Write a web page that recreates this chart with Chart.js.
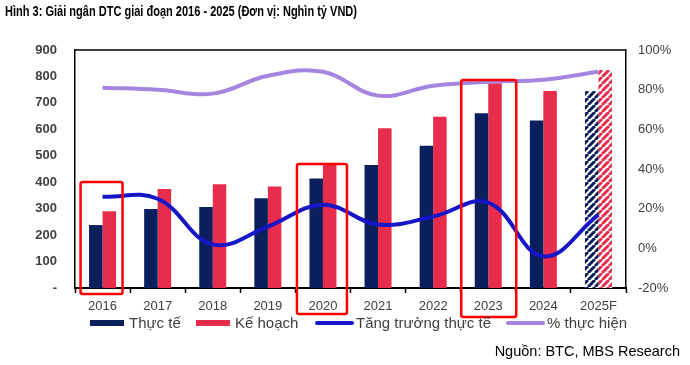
<!DOCTYPE html>
<html>
<head>
<meta charset="utf-8">
<script src="https://cdn.jsdelivr.net/npm/chart.js@4.4.1/dist/chart.umd.min.js"></script>
<style>
  html, body { margin: 0; padding: 0; background: #fff; }
  #wrap { width: 690px; height: 365px; position: relative; }
</style>
</head>
<body>
<div id="wrap"><canvas id="dtc"></canvas></div>
<script>
// du lieu doc tu hinh
const years = ['2016', '2017', '2018', '2019', '2020', '2021', '2022', '2023', '2024', '2025F'];
const thucTe = [238, 299, 306, 339, 414, 465, 538, 661, 633, 745];
const keHoach = [290, 374, 392, 384, 466, 604, 648, 774, 745, 824];
const tangTruong = [26, 25, 2, 11, 22, 12, 16, 23, -4, 17];
const thucHien = [81, 80, 78, 87, 89, 77, 82, 84, 85, 89];
const leftTicks = [0, 100, 200, 300, 400, 500, 600, 700, 800, 900];
const rightTicks = [-20, 0, 20, 40, 60, 80, 100];
// o do khoanh (nam, dinh o theo don vi truc trai)
const boxYears = ['2016', '2020', '2023'];
const boxTops = [401, 469, 787];

const NAVY = '#0b1f5c';
const RED = '#e82c4c';
const BLUE = '#1616c8';
const PURPLE = '#a486de';

// soc cheo cho nam du bao
function hatch(color) {
  const c = document.createElement('canvas');
  c.width = 7; c.height = 7;
  const g = c.getContext('2d');
  g.fillStyle = '#fff';
  g.fillRect(0, 0, 7, 7);
  g.strokeStyle = color;
  g.lineWidth = 3;
  g.beginPath();
  for (let k = -7; k <= 14; k += 7) {
    g.moveTo(k, 7); g.lineTo(k + 7, 0);
  }
  g.stroke();
  return g.createPattern(c, 'repeat');
}
const navyHatch = hatch(NAVY);
const redHatch = hatch(RED);

const last = years.length - 1;
const navyColors = years.map((y, i) => i === last ? navyHatch : NAVY);
const redColors = years.map((y, i) => i === last ? redHatch : RED);

const extras = {
  id: 'extras',
  afterDatasetsDraw(chart) {
    const ctx = chart.ctx;
    const x = chart.scales.x, y = chart.scales.y;
    const area = chart.chartArea;
    // khung tren
    ctx.save();
    ctx.strokeStyle = '#000';
    ctx.lineWidth = 1.5;
    ctx.beginPath();
    ctx.moveTo(area.left, area.top);
    ctx.lineTo(area.right, area.top);
    ctx.stroke();
    // o do
    const halfL = [22, 26, 27];
    const halfR = [20, 24, 28];
    const bottoms = [6, 26, 29];
    ctx.strokeStyle = '#ff0000';
    ctx.lineWidth = 2.5;
    boxYears.forEach((yr, k) => {
      const cx = x.getPixelForValue(years.indexOf(yr));
      const top = y.getPixelForValue(boxTops[k]);
      const l = cx - halfL[k], r = cx + halfR[k], b = area.bottom + bottoms[k];
      ctx.beginPath();
      ctx.roundRect(l, top, r - l, b - top, 2);
      ctx.stroke();
    });
    ctx.restore();
  },
  afterDraw(chart) {
    const ctx = chart.ctx;
    ctx.save();
    // tieu de
    const title = 'Hình 3: Giải ngân DTC giai đoạn 2016 - 2025 (Đơn vị: Nghìn tỷ VND)';
    ctx.font = 'bold 15px "Liberation Sans Narrow", "Liberation Sans", Arial, sans-serif';
    ctx.fillStyle = '#000';
    ctx.textBaseline = 'middle';
    ctx.textAlign = 'left';
    const w = ctx.measureText(title).width;
    ctx.save();
    ctx.translate(5, 12);
    ctx.scale(352 / w, 1);
    ctx.fillText(title, 0, 0);
    ctx.restore();

    // chu thich
    const ds = chart.data.datasets;
    const items = [
      { x: 90, type: 'box', color: NAVY, text: ds[2].label },
      { x: 196, type: 'box', color: RED, text: ds[3].label },
      { x: 316, type: 'line', color: BLUE, text: ds[0].label },
      { x: 507, type: 'line', color: PURPLE, text: ds[1].label }
    ];
    const ly = 323;
    ctx.font = '15px "Liberation Sans", Arial, sans-serif';
    items.forEach(it => {
      if (it.type === 'box') {
        ctx.fillStyle = it.color;
        ctx.fillRect(it.x, ly - 3, 34, 6);
      } else {
        ctx.strokeStyle = it.color;
        ctx.lineWidth = 4;
        ctx.lineCap = 'round';
        ctx.beginPath();
        ctx.moveTo(it.x + 1, ly);
        ctx.lineTo(it.x + 36, ly);
        ctx.stroke();
      }
      ctx.fillStyle = '#404040';
      ctx.fillText(it.text, it.x + (it.type === 'box' ? 39 : 40), ly + 1);
    });

    // nguon
    ctx.font = '14.5px "Liberation Sans", Arial, sans-serif';
    ctx.fillStyle = '#000';
    ctx.textAlign = 'right';
    ctx.fillText('Nguồn: BTC, MBS Research', 680, 352);
    ctx.restore();
  }
};

const data = {
  labels: years,
  datasets: [
    {
      type: 'line',
      label: 'Tăng trưởng thực tế',
      data: tangTruong,
      yAxisID: 'y1',
      borderColor: BLUE,
      borderWidth: 4,
      pointRadius: 0,
      tension: 0.4,
      fill: false,
      order: 0
    },
    {
      type: 'line',
      label: '% thực hiện',
      data: thucHien,
      yAxisID: 'y1',
      borderColor: PURPLE,
      borderWidth: 4,
      pointRadius: 0,
      tension: 0.4,
      fill: false,
      order: 0
    },
    {
      type: 'bar',
      label: 'Thực tế',
      data: thucTe,
      yAxisID: 'y',
      backgroundColor: navyColors,
      categoryPercentage: 0.49,
      barPercentage: 1,
      order: 1
    },
    {
      type: 'bar',
      label: 'Kế hoạch',
      data: keHoach,
      yAxisID: 'y',
      backgroundColor: redColors,
      categoryPercentage: 0.49,
      barPercentage: 1,
      order: 1
    }
  ]
};

const config = {
  type: 'bar',
  data,
  options: {
    responsive: true,
    maintainAspectRatio: false,
    animation: false,
    layout: { padding: { top: 50, bottom: 52, left: 0, right: 0 } },
    plugins: { legend: { display: false }, tooltip: { enabled: false } },
    scales: {
      x: {
        afterFit(s) { s.height = 25; },
        grid: {
          offset: true,
          drawOnChartArea: false,
          drawTicks: true,
          tickLength: 5,
          tickColor: '#000',
          tickWidth: 1.5
        },
        border: { display: true, color: '#000', width: 2 },
        ticks: {
          color: '#404040',
          padding: 6,
          font: { family: '"Liberation Sans", Arial, sans-serif', size: 13 }
        }
      },
      y: {
        position: 'left',
        min: 0,
        max: 900,
        afterFit(s) { s.width = 75; },
        afterBuildTicks(s) { s.ticks = leftTicks.map(v => ({ value: v })); },
        grid: { display: false },
        border: { display: true, color: '#000', width: 1.5 },
        ticks: {
          color: '#404040',
          padding: 10,
          font: { family: '"Liberation Sans", Arial, sans-serif', size: 13, weight: 'bold' },
          callback: v => v === 0 ? '-' : String(v)
        }
      },
      y1: {
        position: 'right',
        min: -20,
        max: 100,
        afterFit(s) { s.width = 64; },
        afterBuildTicks(s) { s.ticks = rightTicks.map(v => ({ value: v })); },
        grid: { display: false },
        border: { display: true, color: '#000', width: 1.5 },
        ticks: {
          color: '#404040',
          padding: 4,
          font: { family: '"Liberation Sans", Arial, sans-serif', size: 13 },
          callback: v => v + '%'
        }
      }
    }
  },
  plugins: [extras]
};

new Chart(document.getElementById('dtc'), config);
</script>
</body>
</html>
